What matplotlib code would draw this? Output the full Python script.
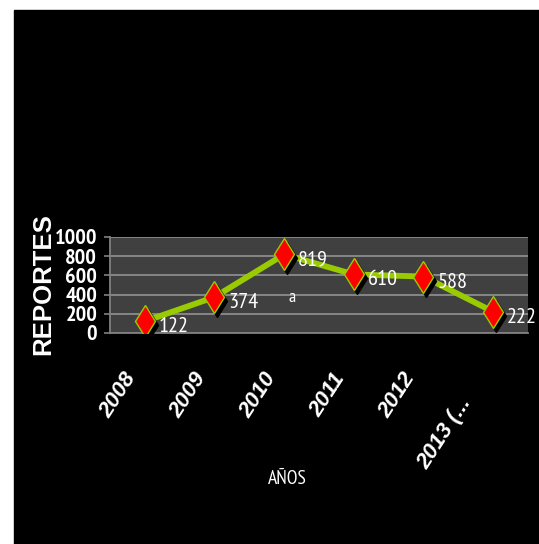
import matplotlib
matplotlib.use("Agg")
import matplotlib.pyplot as plt
import matplotlib.transforms as mtransforms
from matplotlib.patches import Rectangle

# data
years = ["2008", "2009", "2010", "2011", "2012", "2013 (..."]
reportes = [122, 374, 819, 610, 588, 222]
y_ticks = [0, 200, 400, 600, 800, 1000]

W, H = 539, 544
DPI = 100
# condensed faces
narrow_bold = ["PT Sans Narrow", "Open Sans Condensed", "DejaVu Sans"]
narrow = ["PT Sans Narrow", "Archivo Narrow", "Carlito", "DejaVu Sans"]
arial = ["Liberation Sans", "DejaVu Sans"]

fig = plt.figure(figsize=(W / DPI, H / DPI), dpi=DPI)
fig.patch.set_facecolor("white")

# black slide background
fig.patches.append(Rectangle((14 / W, 0), 1 - 14 / W, (H - 10) / H,
                             transform=fig.transFigure, color="black", zorder=-10))

ax = fig.add_axes([110 / W, (H - 333) / H, (528 - 110) / W, (333 - 237) / H])
ax.set_facecolor("#404040")

x = list(range(len(years)))

# line + shadowed diamonds
ax.plot(x, reportes, color="#99cc00", lw=4.2, zorder=3, solid_capstyle="round")
shadow = mtransforms.offset_copy(ax.transData, fig=fig, x=3, y=-4, units="dots")
ax.plot(x, reportes, ls="none", marker="d", ms=16.5, color="black",
        transform=shadow, zorder=4)
ax.plot(x, reportes, ls="none", marker="d", ms=16.5, mfc="#ff0000",
        mec="#99cc00", mew=1.0, zorder=5)

# data labels
for xi, v in zip(x, reportes):
    ax.annotate(str(v), (xi, v), xytext=(10, -4), textcoords="offset points",
                color="white", fontsize=16, family=narrow, ha="left",
                va="center", zorder=6, annotation_clip=False)

ax.text(2.11, 365, "a", color="white", fontsize=13, family=narrow,
        ha="center", va="center")

ax.set_xlim(-0.5, len(years) - 0.5)
ax.set_ylim(0, 1000)
ax.set_yticks(y_ticks)
ax.set_yticklabels([str(t) for t in y_ticks], fontsize=16, fontweight="bold",
                   family=narrow_bold, color="white")
ax.tick_params(axis="y", length=4.3, width=1.2, color="#808080", pad=5)
ax.grid(axis="y", color="#8c8c8c", lw=1.3)
ax.set_axisbelow(True)

ax.set_xticks(x)
ax.set_xticklabels(years, rotation=57, ha="right", va="top",
                   fontsize=16, fontweight="bold", fontstyle="italic",
                   color="white", family=arial)
ax.tick_params(axis="x", length=0, pad=26)
for i, lab in enumerate(ax.get_xticklabels()):
    dx, dy = -4, 0
    if i == len(years) - 1:
        dx, dy = -18, -24
    lab.set_transform(lab.get_transform() +
                      mtransforms.ScaledTranslation(dx / DPI, dy / DPI, fig.dpi_scale_trans))

for s in ["top", "right"]:
    ax.spines[s].set_visible(False)
for s in ["left", "bottom"]:
    ax.spines[s].set_color("#808080")
    ax.spines[s].set_linewidth(1.3)

fig.text(43 / W, 1 - 284 / H, "REPORTES", rotation=90, color="white",
         fontsize=18.5, fontweight="bold", family=arial,
         ha="center", va="center")
fig.text(287 / W, 1 - 479 / H, "AÑOS", color="white", fontsize=14,
         family=narrow, ha="center", va="center")

fig.savefig("out.png", dpi=DPI, facecolor=fig.get_facecolor())
